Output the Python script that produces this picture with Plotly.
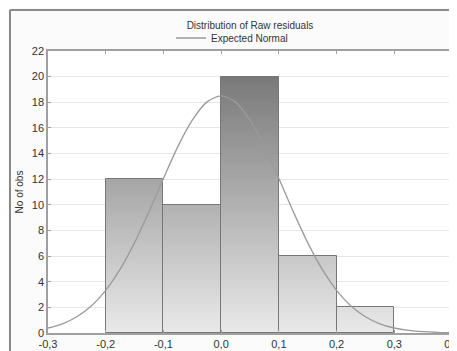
import plotly.graph_objects as go
import numpy as np

# Histogram data
bin_starts = [-0.2, -0.1, 0.0, 0.1, 0.2]
bin_width = 0.1
counts = [12, 10, 20, 6, 2]

# Expected normal curve values
curve_x = [-0.3, -0.275, -0.25, -0.225, -0.2, -0.175, -0.15, -0.125, -0.1, -0.075, -0.05, -0.025,
           0.0, 0.025, 0.05, 0.075, 0.1, 0.125, 0.15, 0.175, 0.2, 0.225, 0.25, 0.275, 0.3,
           0.325, 0.35, 0.375, 0.4]
curve_y = [0.39, 0.72, 1.27, 2.11, 3.33, 4.98, 7.05, 9.47, 12.05, 14.54, 16.6, 18.01,
           18.5, 18.01, 16.6, 14.54, 12.05, 9.47, 7.05, 4.98, 3.33, 2.11, 1.27, 0.72, 0.39,
           0.20, 0.10, 0.045, 0.02]

x_ticks = [-0.3, -0.2, -0.1, 0.0, 0.1, 0.2, 0.3, 0.4]
x_ticktext = ["-0,3", "-0,2", "-0,1", "0,0", "0,1", "0,2", "0,3", "0,4"]
y_ticks = list(range(0, 23, 2))

fig = go.Figure()

# vertical gradient fill: overlay progressively shorter, lighter bars
levels = np.arange(22, 0, -0.25)
for L in levels:
    g = int(round(234 - 5.6 * L))
    g = max(0, min(255, g))
    fig.add_trace(go.Bar(
        x=bin_starts, y=np.minimum(counts, L), width=bin_width, offset=0,
        marker=dict(color=f"rgb({g},{g},{g})", line=dict(width=0)),
        showlegend=False, hoverinfo="skip"))

# outlines
fig.add_trace(go.Bar(
    x=bin_starts, y=counts, width=bin_width, offset=0,
    marker=dict(color="rgba(0,0,0,0)", line=dict(width=1, color="#777777")),
    showlegend=False, name="No of obs"))

fig.add_trace(go.Scatter(
    x=curve_x, y=curve_y, mode="lines", line=dict(color="#9a9a9a", width=1.3, shape="spline", smoothing=0.8),
    name="Expected Normal", showlegend=True))

PL, PT, PW, PH = 40, 43, 404, 282  # plot area in figure px
frame_x = (2 - PL) / PW
frame_y = (PT + PH - 2) / PH

fig.update_layout(
    width=457, height=351,
    margin=dict(l=PL, r=457 - PL - PW, t=PT, b=351 - PT - PH, autoexpand=False),
    barmode="overlay", bargap=0,
    paper_bgcolor="#fbfbfb", plot_bgcolor="white",
    font=dict(family="Liberation Sans, Arial, sans-serif", size=11, color="#333"),
    title=dict(text="Distribution of Raw residuals", x=0.5, xanchor="center",
               xref="paper",
               y=1 - 17 / 351, yanchor="middle", font=dict(size=10, color="#333")),
    showlegend=True,
    legend=dict(orientation="h", x=(163 - PL) / PW, xanchor="left", y=1 + 13 / PH, yanchor="middle",
                bgcolor="rgba(0,0,0,0)", font=dict(size=10, color="#333"),
                itemwidth=30),
    xaxis=dict(range=[-0.3, 0.4], tickvals=x_ticks, ticktext=x_ticktext, automargin=False,
               showgrid=False, zeroline=False, showline=True, linecolor="#a0a0a0",
               linewidth=1.5, mirror="ticks", ticks="inside", ticklen=3, tickcolor="#a0a0a0"),
    yaxis=dict(range=[0, 22], tickvals=y_ticks, showgrid=True, gridcolor="#e6e6e6", automargin=False,
               zeroline=False, showline=True, linecolor="#a0a0a0", linewidth=1.5,
               mirror="ticks", ticks="inside", ticklen=3, tickcolor="#a0a0a0",
               title=dict(text="No of obs", font=dict(size=10, color="#333"), standoff=6)),
    shapes=[
        dict(type="line", xref="paper", yref="paper", x0=frame_x, x1=1.1,
             y0=frame_y, y1=frame_y, line=dict(color="#8a8a8a", width=2)),
        dict(type="line", xref="paper", yref="paper", x0=frame_x, x1=frame_x,
             y0=-0.2, y1=frame_y, line=dict(color="#8a8a8a", width=2)),
    ],
)

fig.write_html("out.html")
